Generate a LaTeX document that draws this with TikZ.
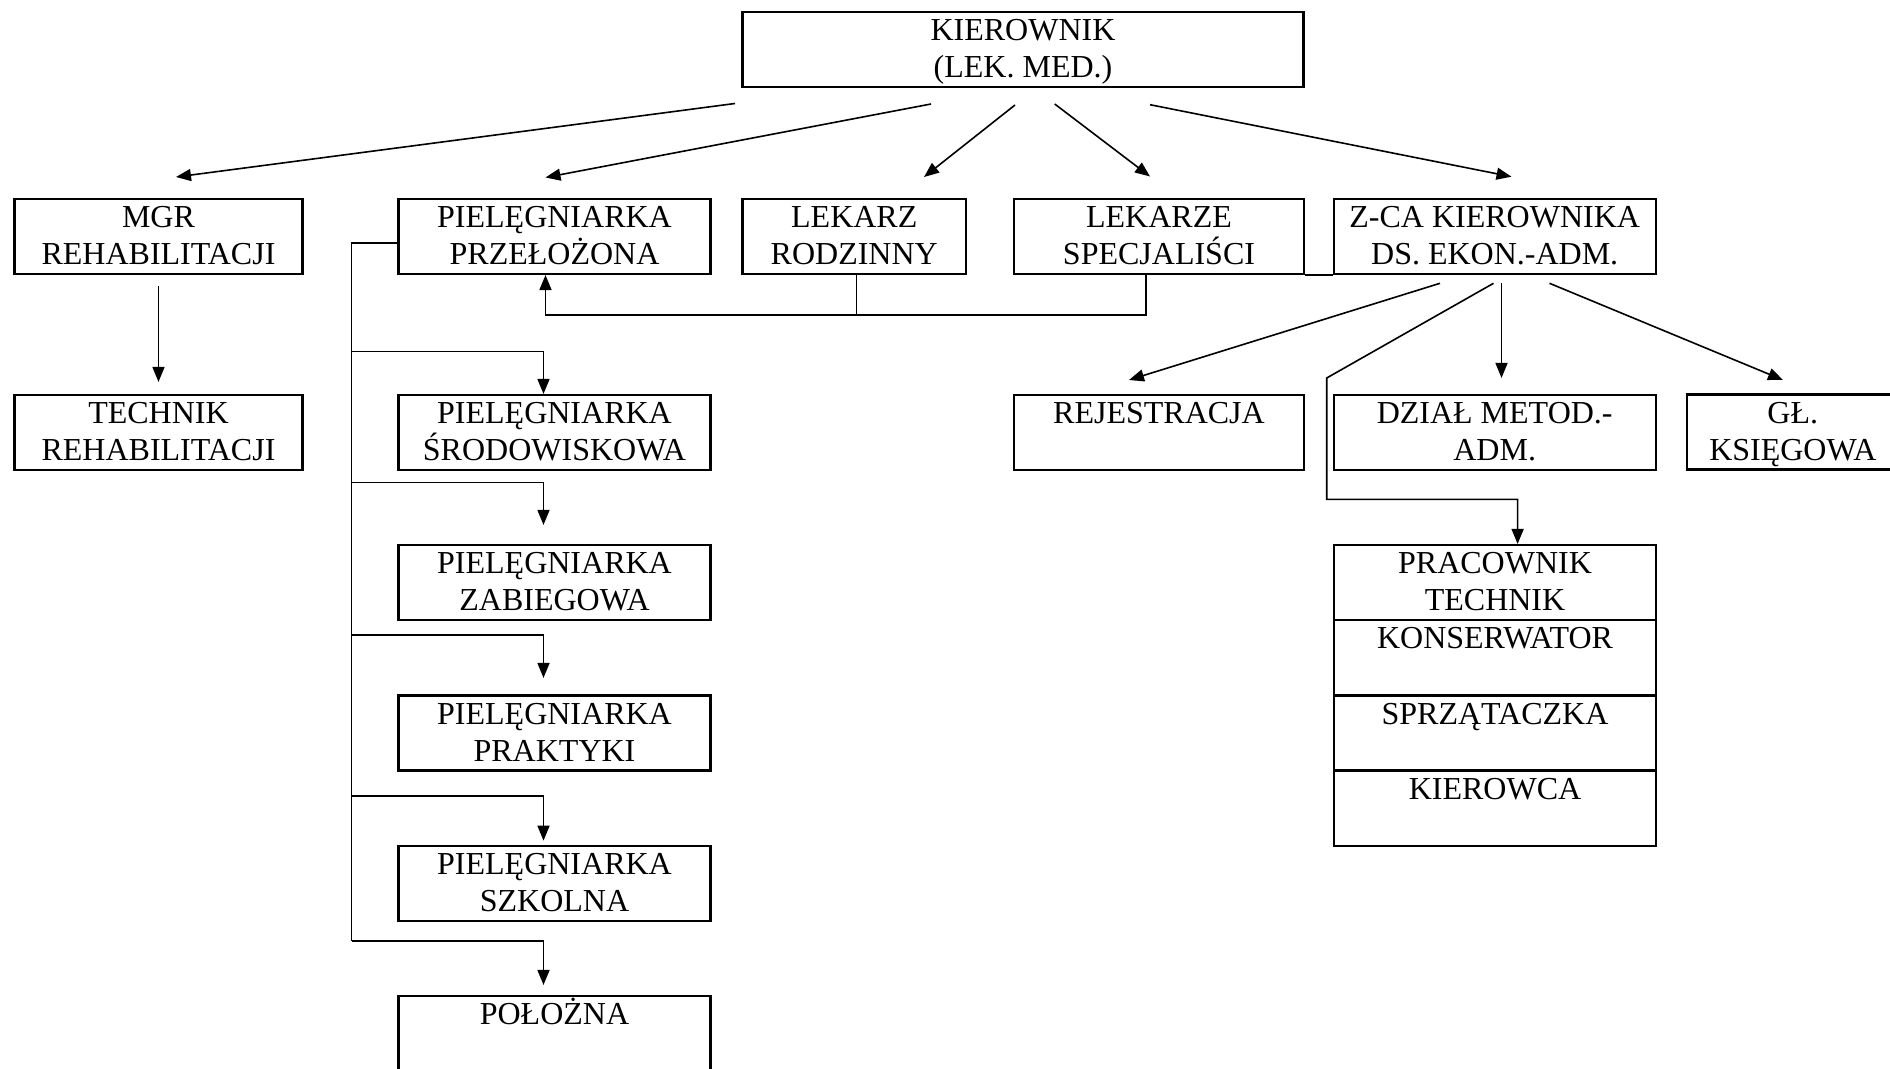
\documentclass[tikz,border=0pt]{standalone}
\usepackage{fontspec}
\setmainfont{Liberation Serif}
\usetikzlibrary{arrows.meta,calc}
\newcommand{\orgtext}[1]{\parbox[t]{170pt}{\centering #1}}

\begin{document}
\begin{tikzpicture}[x=0.5pt,y=0.5pt,yscale=-1,
  orgbox/.style={draw, line width=1.05pt, inner sep=0pt, minimum height=37.5pt},
  orgtxt/.style={anchor=base, inner sep=0pt, font=\fontsize{16}{18.35}\selectfont},
  conn/.style={line width=0.8pt},
  arr/.style={line width=0.8pt, -{Triangle[length=7.5pt,width=6pt]}}]
\useasboundingbox (0,0) rectangle (1890,1069);
\clip (0,0) rectangle (1890,1069);

%Shape: Rectangle
\node[orgbox, minimum width=280.5pt] (kier) at (1023,49.5) {};
%Shape: Rectangle
\node[orgbox, minimum width=144pt] (mgr) at (158.5,236.5) {};
%Shape: Rectangle
\node[orgbox, minimum width=156pt] (przel) at (554.5,236.5) {};
%Shape: Rectangle
\node[orgbox, minimum width=111.75pt] (rodz) at (854.25,236.5) {};
%Shape: Rectangle
\node[orgbox, minimum width=144.65pt] (spec) at (1159,236.5) {};
%Shape: Rectangle
\node[orgbox, minimum width=161pt] (zca) at (1494.7,236.5) {};
%Straight Lines
\draw[line width=1.05pt] (spec.south east) -- (zca.south west);

%Shape: Rectangle
\node[orgbox, minimum width=144pt] (tech) at (158.5,432.5) {};
%Shape: Rectangle
\node[orgbox, minimum width=156pt] (srod) at (554.5,432.5) {};
%Shape: Rectangle
\node[orgbox, minimum width=156pt] (zab) at (554.5,582.5) {};
%Shape: Rectangle
\node[orgbox, minimum width=156pt] (prak) at (554.5,733) {};
%Shape: Rectangle
\node[orgbox, minimum width=156pt] (szk) at (554.5,883.2) {};
%Shape: Rectangle
\node[orgbox, minimum width=156pt] (pol) at (554.5,1033.2) {};
%Shape: Rectangle
\node[orgbox, minimum width=144.65pt] (rej) at (1159,432.5) {};
%Shape: Rectangle
\node[orgbox, minimum width=161pt] (dzial) at (1494.7,432.5) {};
%Shape: Rectangle
\node[orgbox, minimum width=106pt] (ksieg) at (1792.8,432) {};
%Shape: Rectangle
\node[orgbox, minimum width=161pt] (prac1) at (1495,582.5) {};
\node[orgbox, minimum width=161pt] (prac2) at (1495,657.5) {};
\node[orgbox, minimum width=161pt] (prac3) at (1495,733) {};
\node[orgbox, minimum width=161pt] (prac4) at (1495,808.2) {};

%Straight Lines
\coordinate (k1) at (735,103.5);   \coordinate (t1) at (176,177);
\coordinate (k2) at (931,104);     \coordinate (t2) at (545.5,177.5);
\coordinate (k3) at (1015,105);    \coordinate (t3) at (924,177);
\coordinate (k4) at (1054.7,104);  \coordinate (t4) at (1150,176.5);
\coordinate (k5) at (1150,104.7);  \coordinate (t5) at (1511.5,176.7);
\draw[arr] (k1) -- (t1);
\draw[arr] (k2) -- (t2);
\draw[arr] (k3) -- (t3);
\draw[arr] (k4) -- (t4);
\draw[arr] (k5) -- (t5);

%Straight Lines
\draw[arr] ($(mgr.south)+(0,11)$) -- ($(tech.north)+(0,-12)$);

%Straight Lines
\coordinate (tr0) at (351.5,243.3);
\coordinate (tr1) at (351.5,940.7);
\draw[conn] (przel.west |- tr0) -- (tr0) -- (tr1);
\coordinate (b1) at (543.5,351.7);
\coordinate (b2) at (543.5,482.7);
\coordinate (b3) at (543.5,635);
\coordinate (b4) at (543.5,795.7);
\coordinate (b5) at (543.5,940.7);
\draw[arr] (tr0 |- b1) -- (b1) -- (b1 |- srod.north);
\draw[arr] (tr0 |- b2) -- (b2) -- ($(b2 |- zab.north)+(0,-19)$);
\draw[arr] (tr0 |- b3) -- (b3) -- ($(b3 |- prak.north)+(0,-16.5)$);
\draw[arr] (tr0 |- b4) -- (b4) -- ($(b4 |- szk.north)+(0,-4)$);
\draw[arr] (tr0 |- b5) -- (b5) -- ($(b5 |- pol.north)+(0,-9.7)$);

%Straight Lines
\coordinate (fb) at (545.5,315);
\coordinate (sp) at (1146,315);
\coordinate (rd) at (856.5,315);
\draw[arr] (sp |- spec.south) -- (sp) -- (fb) -- (fb |- przel.south);
\draw[conn] (rd |- rodz.south) -- (rd);

%Straight Lines
\coordinate (z1) at (1440,283.3);   \coordinate (u1) at (1129,380);
\coordinate (z2) at (1493.5,283.3); \coordinate (u2) at (1326.7,378);
\coordinate (z3) at (1501.5,283.3);
\coordinate (z4) at (1549.5,283.3); \coordinate (u4) at (1783,380);
\coordinate (pk) at (1517.6,499.3);
\draw[arr] (z1) -- (u1);
\draw[arr] (z2) -- (u2) -- (u2 |- pk) -- (pk) -- (pk |- prac1.north);
\draw[arr] (z3) -- ($(z3 |- dzial.north)+(0,-16)$);
\draw[arr] (z4) -- (u4);

% Text Node
\node[orgtxt] (kier-t) at ($(kier.north)+(0,30)$) {\orgtext{KIEROWNIK\\(LEK. MED.)}};
% Text Node
\node[orgtxt] (mgr-t) at ($(mgr.north)+(0,30)$) {\orgtext{MGR\\REHABILITACJI}};
% Text Node
\node[orgtxt] (przel-t) at ($(przel.north)+(0,30)$) {\orgtext{PIELĘGNIARKA\\PRZEŁOŻONA}};
% Text Node
\node[orgtxt] (rodz-t) at ($(rodz.north)+(0,30)$) {\orgtext{LEKARZ\\RODZINNY}};
% Text Node
\node[orgtxt] (spec-t) at ($(spec.north)+(0,30)$) {\orgtext{LEKARZE\\SPECJALIŚCI}};
% Text Node
\node[orgtxt] (zca-t) at ($(zca.north)+(0,30)$) {\orgtext{Z-CA KIEROWNIKA\\DS. EKON.-ADM.}};
% Text Node
\node[orgtxt] (tech-t) at ($(tech.north)+(0,30)$) {\orgtext{TECHNIK\\REHABILITACJI}};
% Text Node
\node[orgtxt] (srod-t) at ($(srod.north)+(0,30)$) {\orgtext{PIELĘGNIARKA\\ŚRODOWISKOWA}};
% Text Node
\node[orgtxt] (zab-t) at ($(zab.north)+(0,30)$) {\orgtext{PIELĘGNIARKA\\ZABIEGOWA}};
% Text Node
\node[orgtxt] (prak-t) at ($(prak.north)+(0,30)$) {\orgtext{PIELĘGNIARKA\\PRAKTYKI}};
% Text Node
\node[orgtxt] (szk-t) at ($(szk.north)+(0,30)$) {\orgtext{PIELĘGNIARKA\\SZKOLNA}};
% Text Node
\node[orgtxt] (pol-t) at ($(pol.north)+(0,30)$) {\orgtext{POŁOŻNA}};
% Text Node
\node[orgtxt] (rej-t) at ($(rej.north)+(0,30)$) {\orgtext{REJESTRACJA}};
% Text Node
\node[orgtxt] (dzial-t) at ($(dzial.north)+(0,30)$) {\orgtext{DZIAŁ METOD.-\\ADM.}};
% Text Node
\node[orgtxt] (ksieg-t) at ($(ksieg.north)+(0,30)$) {\orgtext{GŁ.\\KSIĘGOWA}};
% Text Node
\node[orgtxt] (prac1-t) at ($(prac1.north)+(0,30)$) {\orgtext{PRACOWNIK\\TECHNIK}};
% Text Node
\node[orgtxt] (prac2-t) at ($(prac2.north)+(0,30)$) {\orgtext{KONSERWATOR}};
% Text Node
\node[orgtxt] (prac3-t) at ($(prac3.north)+(0,30)$) {\orgtext{SPRZĄTACZKA}};
% Text Node
\node[orgtxt] (prac4-t) at ($(prac4.north)+(0,30)$) {\orgtext{KIEROWCA}};

\end{tikzpicture}
\end{document}
